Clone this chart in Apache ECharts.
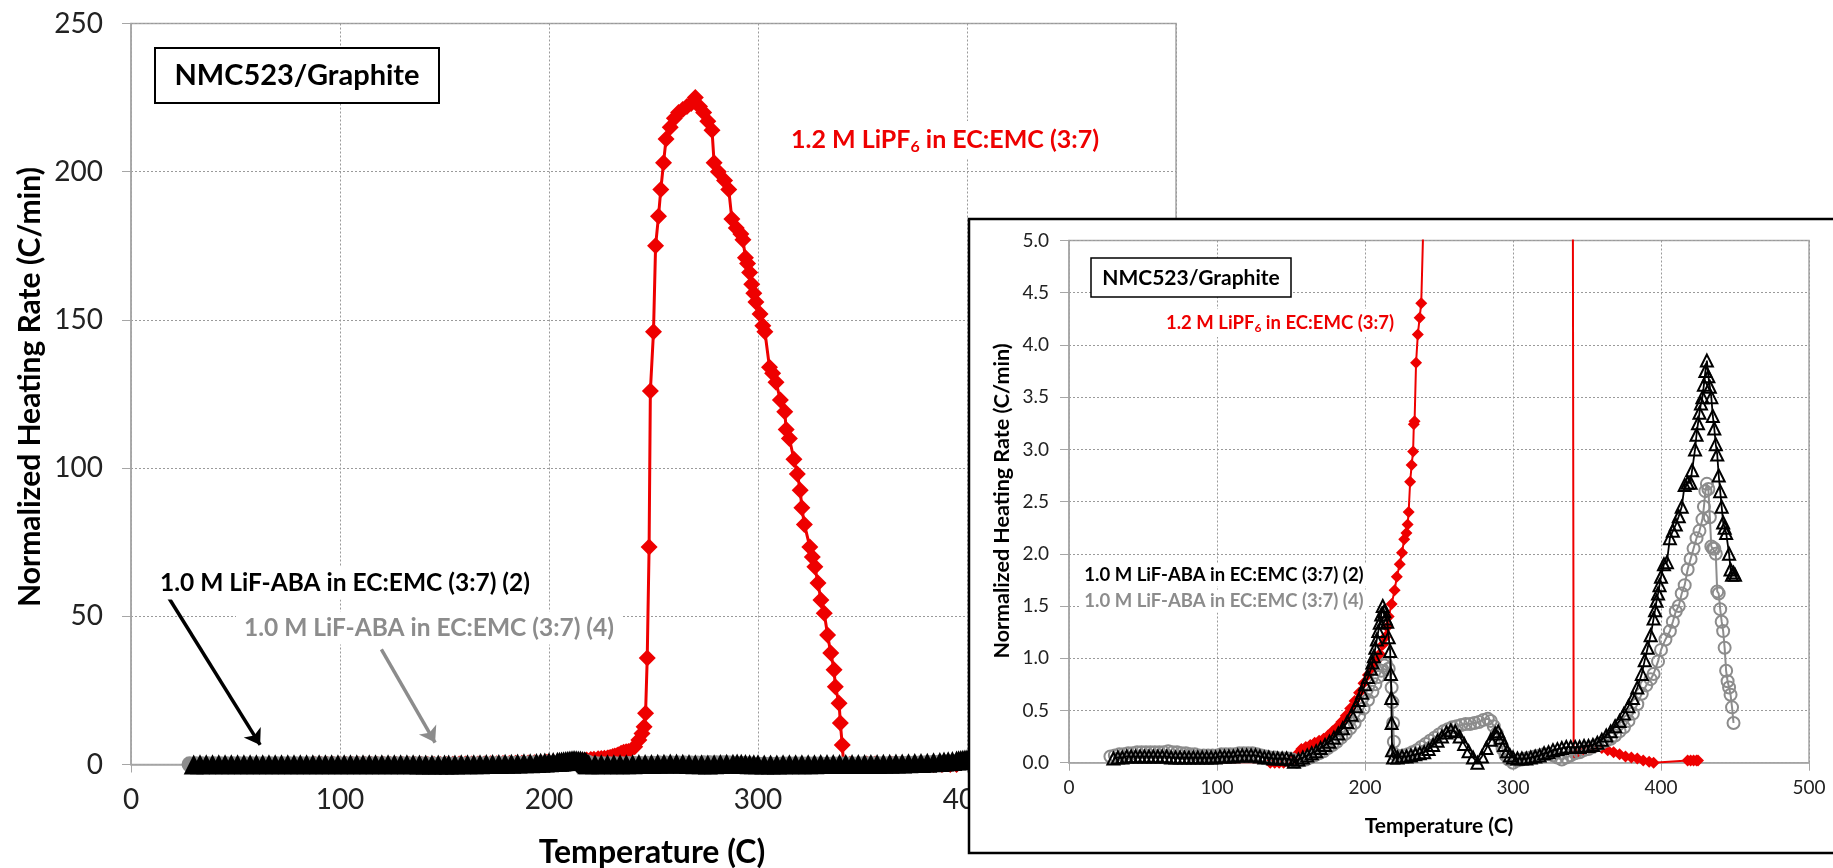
<!DOCTYPE html>
<html><head><meta charset="utf-8">
<script src="https://cdn.jsdelivr.net/npm/echarts@6/dist/echarts.min.js"></script>
<style>html,body{margin:0;padding:0;background:#fff}#c{width:1833px;height:868px}</style>
</head><body><div id="c"></div>
<script>
// ---- data (Temperature in C, Normalized Heating Rate in C/min) ----
const redTemp = [88,91,94,97,100,103,106,109,112,115,118,121,124,127,130,133,136,139,142,145,148,151,154,157,160,163,166,169,172,175,178,181,184,187,190,193,196,199,202,205,208,210,212,213.5,215,216,218,220,221.5,223.5,225,226.5,228,228.8,229.5,230.5,231.5,232.5,233,233.5,234.5,235.7,236.9,238,241,243,244.5,245.5,246.2,247,247.9,248.5,250,251,252.4,253.5,254.8,256,258,260,262,264,266,268,270,272,274,276,278,279,281,284,286,287.5,289.6,291.8,292.8,294,295,296,297,298,299,301,302.3,303.3,305.5,307,308.6,310.7,312.8,313.5,315,317.2,318.8,320.2,321,322.2,324.8,326,327.2,328.7,330.1,331.7,333.3,334.8,336.4,337,338.8,339.4,340.3,341,344,348,352,356,360,364,368,372,376,380,384,388,392,395,418,420,422,424,425];
const redRate = [-0.02,-0.02,-0.02,-0.02,-0.02,-0.02,-0.02,-0.02,-0.02,-0.02,-0.02,-0.02,-0.02,-0.02,-0.01,-0.01,0,0,0,0,0.01,0.03,0.08,0.13,0.15,0.17,0.19,0.21,0.23,0.26,0.3,0.34,0.39,0.45,0.52,0.59,0.67,0.76,0.84,0.91,0.98,1.04,1.13,1.2,1.3,1.4,1.52,1.65,1.78,1.9,2.01,2.14,2.2,2.28,2.4,2.69,2.85,2.98,3.24,3.27,3.83,4.1,4.26,4.4,6.0,8.3,10.5,12.7,17.3,35.9,73.4,126,146,175,185,194,203,211,215,218,220,221,222,223,225,222,220,217,214,203,200,197,194,184,181,179,177,171,169,166,162,159,156,152,148,146,134,132,129,123,119,113,110,103,98,92.5,86.6,81,73.4,70,66.7,61.2,55.5,51,43.7,37.6,32,26.2,20.7,14,6.6,0.08,0.1,0.12,0.14,0.15,0.14,0.12,0.1,0.08,0.06,0.05,0.04,0.02,0.01,0,0.02,0.02,0.02,0.02,0.02];

const blackTemp = [30,33,36,39,42,45,48,51,54,57,60,63,66,69,72,75,78,81,84,87,90,93,96,99,102,105,108,111,114,117,120,123,126,129,132,135,138,141,144,147,150,152,155,158,161,164,167,170,173,176,179,182,185,188,191,194,196,198,200,202,204,205,206,207,208,209,210,211,212,213,214,215,216,217,217.5,217.8,218,218.3,219,222,225,228,231,234,237,240,243,246,249,252,255,258,261,264,267,270,273,276,279,282,285,288,290,292,294,296,298,300,303,306,309,312,315,318,321,324,327,330,333,336,339,342,345,348,351,354,357,360,363,366,369,372,375,378,381,384,387,389,391,393,395,396,397,398,399,400,402,404,406,408,410,412,414,416,418,420,421,423,424,425,426,427,428,429,430,431,432,433,434,435,436,437,438,439,440,441,442,443,444,446,447,448,449,450];
const blackRate = [0.04,0.05,0.05,0.06,0.06,0.06,0.06,0.06,0.06,0.06,0.06,0.06,0.06,0.05,0.05,0.05,0.05,0.05,0.05,0.05,0.05,0.05,0.05,0.05,0.06,0.06,0.06,0.06,0.07,0.07,0.07,0.07,0.07,0.06,0.05,0.05,0.04,0.04,0.04,0.04,0.03,0.01,0.03,0.05,0.07,0.09,0.11,0.14,0.17,0.2,0.24,0.28,0.33,0.39,0.46,0.54,0.6,0.67,0.75,0.82,0.9,0.96,1.02,1.1,1.18,1.26,1.34,1.42,1.5,1.45,1.38,1.35,1.2,1.07,0.85,0.62,0.38,0.12,0.05,0.05,0.06,0.06,0.07,0.08,0.09,0.1,0.13,0.17,0.21,0.25,0.29,0.31,0.3,0.25,0.18,0.11,0.05,0,0.06,0.14,0.22,0.28,0.3,0.24,0.17,0.11,0.07,0.05,0.04,0.04,0.04,0.05,0.06,0.07,0.09,0.1,0.12,0.13,0.14,0.15,0.15,0.15,0.15,0.16,0.16,0.17,0.19,0.22,0.26,0.3,0.35,0.4,0.47,0.54,0.62,0.72,0.85,0.98,1.1,1.22,1.38,1.46,1.55,1.62,1.7,1.78,1.9,1.92,2.15,2.22,2.28,2.36,2.45,2.66,2.68,2.68,2.8,3.0,3.14,3.25,3.35,3.44,3.5,3.62,3.75,3.85,3.7,3.6,3.5,3.32,3.2,3.05,2.95,2.75,2.6,2.45,2.3,2.25,2.2,2.0,1.85,1.8,1.82,1.8];

const grayTemp = [28,31,34,37,40,43,46,49,52,55,58,61,64,67,70,73,76,79,82,85,88,91,94,97,100,103,106,109,112,115,118,121,124,127,130,133,136,139,142,145,148,151,154,157,160,163,166,169,172,175,178,181,184,187,190,193,196,199,202,205,207,209,211,213,214,216,218,218.5,219,219.5,220,223,226,229,232,235,238,241,244,247,250,253,256,259,262,265,268,271,274,277,280,283,285,287,289,291,293,295,297,300,303,306,309,312,315,318,321,324,327,330,333,336,339,342,345,348,351,354,357,360,363,366,369,372,375,378,381,384,387,390,393,395,398,400,403,406,408,410,412,414,416,418,420,422,424,426,428,429,430,431,432,433,434,435,436,437,438,439,440,441,442,443,444,445,446,447,448,449];
const grayRate = [0.06,0.07,0.08,0.08,0.09,0.09,0.1,0.1,0.1,0.1,0.1,0.1,0.1,0.11,0.1,0.1,0.09,0.09,0.08,0.08,0.07,0.07,0.07,0.07,0.07,0.08,0.08,0.08,0.08,0.09,0.09,0.09,0.09,0.08,0.07,0.06,0.05,0.05,0.04,0.04,0.04,0.03,0.01,0.02,0.03,0.05,0.07,0.09,0.11,0.14,0.17,0.2,0.24,0.28,0.33,0.38,0.45,0.52,0.6,0.68,0.75,0.82,0.88,0.93,0.95,0.9,0.72,0.58,0.38,0.2,0.08,0.06,0.07,0.08,0.1,0.12,0.15,0.18,0.21,0.24,0.27,0.3,0.32,0.34,0.35,0.36,0.37,0.37,0.38,0.39,0.41,0.42,0.4,0.35,0.28,0.2,0.13,0.07,0.03,0,0.02,0.03,0.04,0.05,0.06,0.07,0.08,0.08,0.07,0.05,0.03,0.05,0.07,0.09,0.1,0.12,0.13,0.15,0.17,0.19,0.21,0.23,0.26,0.3,0.34,0.4,0.47,0.56,0.66,0.74,0.8,0.85,0.97,1.08,1.18,1.26,1.35,1.45,1.5,1.62,1.7,1.85,1.95,2.05,2.15,2.22,2.33,2.45,2.6,2.67,2.62,2.35,2.07,2.05,2.05,2.0,1.64,1.62,1.47,1.35,1.26,1.1,0.88,0.78,0.72,0.65,0.53,0.38];

const mainYTicks = [0, 50, 100, 150, 200, 250];
const insetYTicks = [0, 0.5, 1.0, 1.5, 2.0, 2.5, 3.0, 3.5, 4.0, 4.5, 5.0];
const xTicks = [0, 100, 200, 300, 400, 500];

const seriesNames = ['1.2 M LiPF6 in EC:EMC (3:7)', '1.0 M LiF-ABA in EC:EMC (3:7) (2)', '1.0 M LiF-ABA in EC:EMC (3:7) (4)'];
const boxLabel = 'NMC523/Graphite';
const xTitle = 'Temperature (C)';
const yTitle = 'Normalized Heating Rate (C/min)';

// ---- build ----
const zip = (a, b) => a.map((t, i) => [t, b[i]]);
const redData = zip(redTemp, redRate);
const blackData = zip(blackTemp, blackRate);
const grayData = zip(grayTemp, grayRate);

const FONT = 'Lato, "Noto Sans", sans-serif';
const RED = '#ee0000';
const GRAY = '#8c8c8c';
const gridColor = '#a6a6a6';

function axisX(gi, fs, margin, z, ticks) {
  return {
    type: 'value', gridIndex: gi, min: ticks[0], max: ticks[ticks.length - 1], interval: ticks[1] - ticks[0], zlevel: gi, z: z,
    axisLine: {show: true, onZero: false, lineStyle: {color: gridColor, width: 1.5}},
    axisTick: {show: true, inside: false, length: 8, lineStyle: {color: gridColor}},
    axisLabel: {fontFamily: FONT, fontSize: fs, color: '#222', margin: margin},
    splitLine: {show: true, lineStyle: {color: '#9a9a9a', type: [2, 2], width: 1}}
  };
}
function axisY(gi, ticks, fs, margin, fmt, z) {
  return {
    type: 'value', gridIndex: gi, min: ticks[0], max: ticks[ticks.length - 1], interval: ticks[1] - ticks[0], zlevel: gi, z: z,
    axisLine: {show: true, lineStyle: {color: gridColor, width: 1.5}},
    axisTick: {show: true, inside: false, length: 9, lineStyle: {color: gridColor}},
    axisLabel: {fontFamily: FONT, fontSize: fs, color: '#222', margin: margin, formatter: fmt},
    splitLine: {show: true, lineStyle: {color: '#9a9a9a', type: [2, 2], width: 1}}
  };
}

const redRich = (fs, sub, pad) => ({
  a: {font: 'bold ' + fs + 'px ' + FONT, fill: RED, color: RED},
  s: {font: 'bold ' + sub + 'px ' + FONT, fill: RED, color: RED, padding: [pad, 0, 0, 0]}
});

const option = {
  animation: false,
  backgroundColor: '#fff',
  grid: [
    {left: 131, top: 23.5, right: 657, bottom: 103.5, show: true, borderColor: gridColor, borderWidth: 1.5, backgroundColor: '#fff', zlevel: 0},
    {left: 1069, top: 240.5, right: 24, bottom: 105.3, show: true, borderColor: gridColor, borderWidth: 1.5, backgroundColor: 'transparent', zlevel: 1, z: 5}
  ],
  xAxis: [axisX(0, 28, 21, 0, xTicks), axisX(1, 19, 16, 5, xTicks)],
  yAxis: [
    axisY(0, mainYTicks, 28, 28, v => String(v), 0),
    axisY(1, insetYTicks, 19, 20, v => v.toFixed(1), 5)
  ],
  series: [
    {name: seriesNames[0], type: 'line', xAxisIndex: 0, yAxisIndex: 0, data: redData, symbol: 'diamond', symbolSize: 17,
      itemStyle: {color: RED}, lineStyle: {color: RED, width: 3}, z: 2},
    {name: seriesNames[2], type: 'line', xAxisIndex: 0, yAxisIndex: 0, data: grayData, symbol: 'circle', symbolSize: 16,
      itemStyle: {color: GRAY}, lineStyle: {color: GRAY, width: 2}, z: 3},
    {name: seriesNames[1], type: 'line', xAxisIndex: 0, yAxisIndex: 0, data: blackData, symbol: 'triangle', symbolSize: 20,
      itemStyle: {color: '#000'}, lineStyle: {color: '#000', width: 3}, z: 4,
      markLine: {silent: true, animation: false, symbol: ['none', 'arrow'], symbolSize: 15, label: {show: false},
        lineStyle: {width: 3.5, type: 'solid', color: '#000'},
        data: [
          [{coord: [18.2, 56.1], lineStyle: {color: '#000'}}, {coord: [61.8, 6.6]}],
          [{coord: [119.8, 38.8], lineStyle: {color: GRAY}}, {coord: [145.5, 7.4]}]
        ]}},
    {name: seriesNames[0], type: 'line', xAxisIndex: 1, yAxisIndex: 1, data: redData, symbol: 'diamond', symbolSize: 12,
      itemStyle: {color: RED}, lineStyle: {color: RED, width: 2}, zlevel: 1, z: 6, clip: true},
    {name: seriesNames[2], type: 'line', xAxisIndex: 1, yAxisIndex: 1, data: grayData, symbol: 'circle', symbolSize: 12,
      itemStyle: {color: 'rgba(0,0,0,0)', borderColor: GRAY, borderWidth: 2}, lineStyle: {color: GRAY, width: 2}, zlevel: 1, z: 7, clip: true},
    {name: seriesNames[1], type: 'line', xAxisIndex: 1, yAxisIndex: 1, data: blackData, symbol: 'triangle', symbolSize: 12,
      itemStyle: {color: 'rgba(0,0,0,0)', borderColor: '#000', borderWidth: 2}, lineStyle: {color: '#000', width: 1.8}, zlevel: 1, z: 8, clip: true,
      markLine: {silent: true, animation: false, symbol: ['none', 'arrow'], symbolSize: 11, label: {show: false},
        lineStyle: {width: 2.5, type: 'solid', color: '#000'},
        data: [
          [{coord: [129.6, 1.415], lineStyle: {color: '#000'}}, {coord: [184.5, 0.81]}],
          [{coord: [130.6, 1.367], lineStyle: {color: GRAY}}, {coord: [168.4, 0.385]}]
        ]}}
  ],
  graphic: {elements: [
    // main annotations
    {type: 'rect', zlevel: 0, z: 20, shape: {x: 155, y: 48, width: 284, height: 55}, style: {fill: '#fff', stroke: '#000', lineWidth: 2}},
    {type: 'text', zlevel: 0, z: 21, x: 297, y: 76, style: {text: boxLabel, font: 'bold 29px ' + FONT, fill: '#000', align: 'center', verticalAlign: 'middle'}},
    {type: 'text', zlevel: 0, z: 21, x: 945, y: 140, style: {
      text: '{a|1.2 M LiPF}{s|6}{a| in EC:EMC (3:7)}', align: 'center', verticalAlign: 'middle',
      backgroundColor: '#fff', padding: [4, 6], rich: redRich(25, 16, 14)}},
    {type: 'text', zlevel: 0, z: 21, x: 345, y: 583, style: {text: seriesNames[1], font: 'bold 24.5px ' + FONT, fill: '#000', align: 'center', verticalAlign: 'middle', backgroundColor: '#fff', padding: [4, 8]}},
    {type: 'text', zlevel: 0, z: 21, x: 429, y: 628, style: {text: seriesNames[2], font: 'bold 24.5px ' + FONT, fill: GRAY, align: 'center', verticalAlign: 'middle', backgroundColor: '#fff', padding: [4, 8]}},
    {type: 'text', zlevel: 0, z: 21, x: 652, y: 853, style: {text: xTitle, font: 'bold 32px ' + FONT, fill: '#000', align: 'center', verticalAlign: 'middle'}},
    {type: 'text', zlevel: 0, z: 21, x: 30, y: 387, rotation: Math.PI / 2, style: {text: yTitle, font: 'bold 30px ' + FONT, fill: '#000', align: 'center', verticalAlign: 'middle'}},
    // inset frame
    {type: 'rect', zlevel: 1, z: 1, shape: {x: 969, y: 219, width: 900, height: 634}, style: {fill: '#fff', stroke: '#000', lineWidth: 2.5}},
    {type: 'rect', zlevel: 1, z: 30, shape: {x: 1091, y: 258, width: 200, height: 39}, style: {fill: '#fff', stroke: '#000', lineWidth: 1.5}},
    {type: 'text', zlevel: 1, z: 31, x: 1191, y: 278, style: {text: boxLabel, font: 'bold 21px ' + FONT, fill: '#000', align: 'center', verticalAlign: 'middle'}},
    {type: 'text', zlevel: 1, z: 31, x: 1280, y: 323, style: {
      text: '{a|1.2 M LiPF}{s|6}{a| in EC:EMC (3:7)}', align: 'center', verticalAlign: 'middle',
      backgroundColor: '#fff', padding: [3, 4], rich: redRich(18.5, 12, 10)}},
    {type: 'text', zlevel: 1, z: 31, x: 1224, y: 575, style: {text: seriesNames[1], font: 'bold 18.5px ' + FONT, fill: '#000', align: 'center', verticalAlign: 'middle', backgroundColor: '#fff', padding: [2, 4]}},
    {type: 'text', zlevel: 1, z: 31, x: 1224, y: 601, style: {text: seriesNames[2], font: 'bold 18.5px ' + FONT, fill: GRAY, align: 'center', verticalAlign: 'middle', backgroundColor: '#fff', padding: [2, 4]}},
    {type: 'text', zlevel: 1, z: 31, x: 1439, y: 826, style: {text: xTitle, font: 'bold 21px ' + FONT, fill: '#000', align: 'center', verticalAlign: 'middle'}},
    {type: 'text', zlevel: 1, z: 31, x: 1002, y: 501, rotation: Math.PI / 2, style: {text: yTitle, font: 'bold 21.5px ' + FONT, fill: '#000', align: 'center', verticalAlign: 'middle'}}
  ]}
};

const chart = echarts.init(document.getElementById('c'), null, {renderer: 'canvas'});
chart.setOption(option);
</script>
</body></html>
